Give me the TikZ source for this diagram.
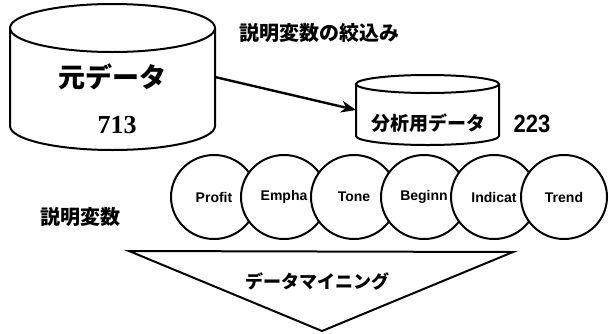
\documentclass[tikz,border=0pt]{standalone}
\usepackage{fontspec}
\setmainfont{Liberation Sans}
\newfontfamily\jp{Noto Sans CJK JP}
\newfontfamily\serifnum{Liberation Serif}
\usetikzlibrary{shapes.geometric,arrows.meta}
\tikzset{
  lw/.style={line width=2pt},
  varcirc/.style={ellipse, lw, draw=black, fill=white, minimum width=86pt, minimum height=84pt, inner sep=0pt,
    font=\fontsize{14}{14}\selectfont\bfseries},
  jptext/.style={inner sep=0pt, font=\jp\bfseries\fontsize{#1}{#1}\selectfont},
  anchorbox/.style={inner sep=0pt, outer sep=0pt, draw=none}
}
\begin{document}
\begin{tikzpicture}[x=1pt,y=-1pt]
\useasboundingbox (0,0) rectangle (609,333);
% big cylinder
\node[anchorbox, minimum width=205pt, minimum height=146pt] (bigcyl) at (112.5,77) {};
\draw[lw, fill=white] (10,28) -- (10,126) arc[start angle=180, end angle=360, x radius=102.5, y radius=-24] -- (215,28);
\draw[lw] (112.5,28) ellipse[x radius=102.5, y radius=24];
\node[jptext=27] (bigtitle) at (112,77) {元データ};
\node[inner sep=0pt, font=\serifnum\bfseries\fontsize{26}{26}\selectfont] (bignum) at (117,125) {713};
% small cylinder
\node[anchorbox, minimum width=143pt, minimum height=70pt] (smallcyl) at (427.5,110) {};
\draw[lw] (356,84) -- (356,136) arc[start angle=180, end angle=360, x radius=71.5, y radius=-9] -- (499,84);
\draw[lw] (427.5,84) ellipse[x radius=71.5, y radius=9];
\node[jptext=19] (smalltitle) at (428,123) {分析用データ};
\node[inner sep=0pt, xscale=0.88, font=\bfseries\fontsize{25}{25}\selectfont] (smallnum) at (532,124) {223};
% arrow
\draw[line width=2.4pt, -{Stealth[length=15pt, width=12pt]}] (bigcyl.east) -- (smallcyl.west);
\node[jptext=20] (narrow) at (319,33) {説明変数の絞込み};
% variables
\node[varcirc] (v1) at (214,197) {Profit};
\node[varcirc] (v2) at (284,197) {Empha};
\node[varcirc] (v3) at (354,197) {Tone};
\node[varcirc] (v4) at (424,197) {Beginn};
\node[varcirc] (v5) at (494,197) {Indicat};
\node[varcirc] (v6) at (564,197) {Trend};
\node[jptext=20] (vars) at (80,217) {説明変数};
% triangle
\draw[lw, line join=miter] (129,251) -- (513,252) -- (322,331) -- cycle;
\node[jptext=18] (mining) at (317,281) {データマイニング};
\end{tikzpicture}
\end{document}
